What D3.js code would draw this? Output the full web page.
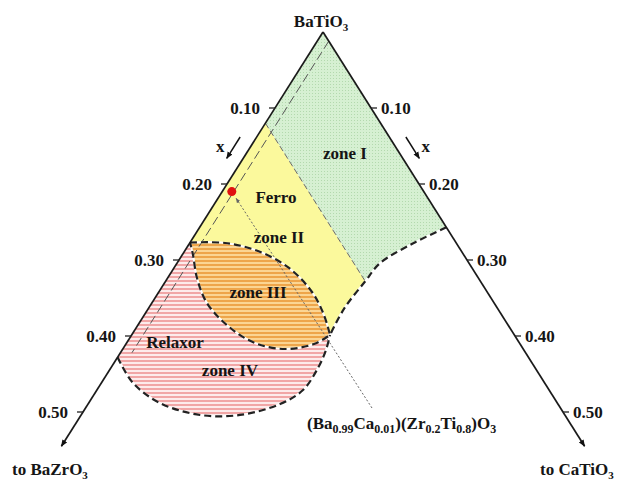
<!DOCTYPE html>
<html>
<head>
<meta charset="utf-8">
<script src="https://cdn.jsdelivr.net/npm/d3@7/dist/d3.min.js"></script>
<style>
  body { margin: 0; background: #fff; }
  svg { display: block; }
  text { font-family: "Liberation Serif", "Times New Roman", serif; font-weight: bold; fill: #151515; }
</style>
</head>
<body>
<svg id="chart" width="620" height="481"></svg>
<script>
// Compositions are [xZr, xCa]: fraction toward BaZrO3 (left axis) and toward CaTiO3 (right axis).
const tickValues = [0.10, 0.20, 0.30, 0.40, 0.50];
const tickLabels = ["0.10", "0.20", "0.30", "0.40", "0.50"];
const axisLength = 0.545;
// Span of the small "x" direction arrows along each axis
const xArrowSpan = [0.148, 0.176];

// Dashed phase boundary from the CaTiO3 side down to the zone III / zone IV junction
const phaseBoundary = [[0, 0.257], [0.045, 0.233], [0.0925, 0.2115], [0.12, 0.208], [0.16, 0.204], [0.192, 0.2066]];
// Zone I / zone II border (constant xZr)
const ferroBorder = [[0.12, 0], [0.12, 0.208]];
// Zone III lens: upper edge and lower edge
const zoneIIITop = [[0.277, 0], [0.2409, 0.0367], [0.2118, 0.0764], [0.1907, 0.1198], [0.1825, 0.1596], [0.1852, 0.1872], [0.192, 0.2066]];
const zoneIIIBottom = [[0.192, 0.2066], [0.2147, 0.1959], [0.2481, 0.169], [0.2755, 0.1338], [0.2924, 0.0945], [0.2992, 0.0575], [0.2931, 0.0306], [0.2821, 0.0113], [0.277, 0]];
// Zone IV outer arc, leaving the BaZrO3 axis
const zoneIVArc = [[0.428, 0], [0.4288, 0.033], [0.4139, 0.0743], [0.3801, 0.1238], [0.3384, 0.1655], [0.2895, 0.2], [0.2564, 0.2147], [0.2262, 0.2158], [0.2061, 0.2123], [0.192, 0.2066]];
// Ca = 0.01 composition line
const caLine = [[0, 0.012], [0.41, 0.012]];
// Marked composition (Ba0.99Ca0.01)(Zr0.2Ti0.8)O3
const sample = [0.2, 0.01];

const zoneLabels = [
  { text: "zone I", at: [0.0567, 0.1025] },
  { text: "Ferro", at: [0.1575, 0.0596] },
  { text: "zone II", at: [0.1807, 0.089] },
  { text: "zone III", at: [0.2388, 0.1034] },
  { text: "Relaxor", at: [0.3581, 0.0498] },
  { text: "zone IV", at: [0.3193, 0.1255] }
];

const svg = d3.select("#chart");

// Oblique composition scales: horizontal from (xCa - xZr), vertical from (xZr + xCa)
const apex = { x: 323, y: 32 };
const sx = d3.scaleLinear().domain([-1, 1]).range([apex.x - 480, apex.x + 480]);
const sy = d3.scaleLinear().domain([0, 1]).range([apex.y, apex.y + 760]);
const proj = ([a, b]) => [sx(b - a), sy(a + b)];

const smooth = d3.line().curve(d3.curveCatmullRom.alpha(0.5));
const straight = d3.line();
const curveSeg = pts => smooth(pts.map(proj)).replace(/^M/, "L");
const lineSeg = pts => straight(pts.map(proj)).replace(/^M/, "L");

// Patterns
const defs = svg.append("defs");
const dots = defs.append("pattern").attr("id", "greenDots")
  .attr("width", 3).attr("height", 3).attr("patternUnits", "userSpaceOnUse");
dots.append("rect").attr("width", 3).attr("height", 3).attr("fill", "#d6f0d2");
dots.append("rect").attr("width", 1).attr("height", 1).attr("fill", "#b3d9ae");

const orange = defs.append("pattern").attr("id", "orangeStripes")
  .attr("width", 8).attr("height", 4).attr("patternUnits", "userSpaceOnUse");
orange.append("rect").attr("width", 8).attr("height", 4).attr("fill", "#fbd593");
orange.append("rect").attr("width", 8).attr("height", 2).attr("fill", "#eea54a");

const pink = defs.append("pattern").attr("id", "pinkStripes")
  .attr("width", 8).attr("height", 4).attr("patternUnits", "userSpaceOnUse");
pink.append("rect").attr("width", 8).attr("height", 4).attr("fill", "#fdebeb");
pink.append("rect").attr("width", 8).attr("height", 2).attr("fill", "#f1a6a6");

const arrow = defs.append("marker").attr("id", "arrowHead")
  .attr("viewBox", "0 0 10 10").attr("refX", 9).attr("refY", 5)
  .attr("markerWidth", 7).attr("markerHeight", 7).attr("markerUnits", "userSpaceOnUse")
  .attr("orient", "auto");
arrow.append("path").attr("d", "M0,1 L10,5 L0,9 Z").attr("fill", "#111");

const smallArrow = defs.append("marker").attr("id", "smallHead")
  .attr("viewBox", "0 0 10 10").attr("refX", 9).attr("refY", 5)
  .attr("markerWidth", 5).attr("markerHeight", 5).attr("markerUnits", "userSpaceOnUse")
  .attr("orient", "auto");
smallArrow.append("path").attr("d", "M0,1 L10,5 L0,9 Z").attr("fill", "#666");

// Zone fills
const ferroIdx = phaseBoundary.findIndex(p => p[0] === ferroBorder[1][0] && p[1] === ferroBorder[1][1]);

const zoneIPath = "M" + proj([0, 0]) + lineSeg([[0, phaseBoundary[0][1]]]) +
  curveSeg(phaseBoundary.slice(0, ferroIdx + 1)) + lineSeg([ferroBorder[0]]) + "Z";
svg.append("path").attr("d", zoneIPath).attr("fill", "url(#greenDots)");

const zoneIIPath = "M" + proj(ferroBorder[0]) + lineSeg([zoneIIITop[0]]) +
  curveSeg(zoneIIITop) + curveSeg(phaseBoundary.slice(ferroIdx).reverse()) + "Z";
svg.append("path").attr("d", zoneIIPath).attr("fill", "#fbf99c");

const zoneIVPath = "M" + proj(zoneIIITop[0]) + lineSeg([zoneIVArc[0]]) +
  curveSeg(zoneIVArc) + curveSeg(zoneIIITop.slice().reverse()) + "Z";
svg.append("path").attr("d", zoneIVPath).attr("fill", "url(#pinkStripes)");

const zoneIIIPath = "M" + proj(zoneIIITop[0]) + curveSeg(zoneIIITop) + curveSeg(zoneIIIBottom) + "Z";
svg.append("path").attr("d", zoneIIIPath).attr("fill", "url(#orangeStripes)");

// Thin guide lines
svg.append("path").attr("d", straight(ferroBorder.map(proj)))
  .attr("fill", "none").attr("stroke", "#6a6a6a").attr("stroke-width", 1).attr("stroke-dasharray", "6,3");
svg.append("path").attr("d", straight(caLine.map(proj)))
  .attr("fill", "none").attr("stroke", "#555").attr("stroke-width", 1).attr("stroke-dasharray", "9,4");

// Leader from the marked composition to its formula
const dotPos = proj(sample);
const labelAnchor = [372, 408];
const ang = Math.atan2(labelAnchor[1] - dotPos[1], labelAnchor[0] - dotPos[0]);
svg.append("line")
  .attr("x1", labelAnchor[0]).attr("y1", labelAnchor[1])
  .attr("x2", dotPos[0] + 8 * Math.cos(ang)).attr("y2", dotPos[1] + 8 * Math.sin(ang))
  .attr("stroke", "#666").attr("stroke-width", 1).attr("stroke-dasharray", "2,2")
  .attr("marker-end", "url(#smallHead)");

// Black dashed boundaries (white under-stroke shows in the gaps)
const boundaries = [
  "M" + proj(phaseBoundary[0]) + curveSeg(phaseBoundary),
  "M" + proj(zoneIIITop[0]) + curveSeg(zoneIIITop) + curveSeg(zoneIIIBottom),
  "M" + proj(zoneIVArc[0]) + curveSeg(zoneIVArc)
];
svg.selectAll("path.under").data(boundaries).join("path").attr("class", "under")
  .attr("d", d => d).attr("fill", "none").attr("stroke", "#fff").attr("stroke-width", 2);
svg.selectAll("path.bound").data(boundaries).join("path").attr("class", "bound")
  .attr("d", d => d).attr("fill", "none").attr("stroke", "#222")
  .attr("stroke-width", 2.2).attr("stroke-dasharray", "7,4");

// Axes
const leftEnd = proj([axisLength, 0]);
const rightEnd = proj([0, axisLength]);
svg.append("line").attr("x1", apex.x).attr("y1", apex.y).attr("x2", leftEnd[0]).attr("y2", leftEnd[1])
  .attr("stroke", "#1a1a1a").attr("stroke-width", 1.7).attr("marker-end", "url(#arrowHead)");
svg.append("line").attr("x1", apex.x).attr("y1", apex.y).attr("x2", rightEnd[0]).attr("y2", rightEnd[1])
  .attr("stroke", "#1a1a1a").attr("stroke-width", 1.7).attr("marker-end", "url(#arrowHead)");

// Ticks and tick labels on both axes
tickValues.forEach((v, i) => {
  const L = proj([v, 0]);
  const R = proj([0, v]);
  svg.append("line").attr("x1", L[0] - 6).attr("x2", L[0]).attr("y1", L[1]).attr("y2", L[1])
    .attr("stroke", "#222").attr("stroke-width", 1.3);
  svg.append("line").attr("x1", R[0]).attr("x2", R[0] + 6).attr("y1", R[1]).attr("y2", R[1])
    .attr("stroke", "#222").attr("stroke-width", 1.3);
  svg.append("text").attr("x", L[0] - 15).attr("y", L[1]).attr("dy", "0.35em")
    .attr("text-anchor", "end").attr("font-size", 17).text(tickLabels[i]);
  svg.append("text").attr("x", R[0] + 10).attr("y", R[1]).attr("dy", "0.35em")
    .attr("text-anchor", "start").attr("font-size", 17).text(tickLabels[i]);
});

// "x" direction arrows beside each axis, offset outward along the axis normal
function axisArrow(side) {
  const at = v => side < 0 ? proj([v, 0]) : proj([0, v]);
  const p0 = at(xArrowSpan[0]);
  const p1 = at(xArrowSpan[1]);
  const dx = p1[0] - p0[0], dy = p1[1] - p0[1], len = Math.hypot(dx, dy);
  const ux = dx / len, uy = dy / len;
  // outward normal: left axis -> up-left, right axis -> up-right
  const nx = side < 0 ? -uy : uy, ny = side < 0 ? ux : -ux;
  const off = 14;
  const a0 = [p0[0] + nx * off, p0[1] + ny * off];
  const a1 = [p1[0] + nx * off, p1[1] + ny * off];
  svg.append("line").attr("x1", a0[0]).attr("y1", a0[1]).attr("x2", a1[0]).attr("y2", a1[1])
    .attr("stroke", "#111").attr("stroke-width", 1.5).attr("marker-end", "url(#arrowHead)");
  const mx = (a0[0] + a1[0]) / 2, my = (a0[1] + a1[1]) / 2;
  svg.append("text").attr("x", mx + side * 9).attr("y", my + 4)
    .attr("text-anchor", side < 0 ? "end" : "start").attr("font-size", 17).text("x");
}
axisArrow(-1);
axisArrow(1);

// Chemical formula helper with subscripts
function chem(x, y, parts, anchor, size, subSize) {
  const t = svg.append("text").attr("x", x).attr("y", y).attr("text-anchor", anchor).attr("font-size", size);
  let down = false;
  parts.forEach(([s, sub]) => {
    const span = t.append("tspan").text(s);
    if (sub && !down) { span.attr("dy", 4).attr("font-size", subSize); down = true; }
    else if (sub) { span.attr("font-size", subSize); }
    else if (down) { span.attr("dy", -4); down = false; }
  });
  return t;
}

chem(apex.x - 2, 27, [["BaTiO", false], ["3", true]], "middle", 17, 11);
chem(12, 475, [["to BaZrO", false], ["3", true]], "start", 17, 11);
chem(540, 475, [["to CaTiO", false], ["3", true]], "start", 17, 11);
chem(307, 429, [["(Ba", false], ["0.99", true], ["Ca", false], ["0.01", true], [")(Zr", false],
  ["0.2", true], ["Ti", false], ["0.8", true], [")O", false], ["3", true]], "start", 17, 12);

// Zone labels
svg.selectAll("text.zone").data(zoneLabels).join("text").attr("class", "zone")
  .attr("x", d => proj(d.at)[0]).attr("y", d => proj(d.at)[1]).attr("dy", "0.35em")
  .attr("text-anchor", "middle").attr("font-size", 17).text(d => d.text);

// Marked composition
svg.append("circle").attr("cx", dotPos[0]).attr("cy", dotPos[1]).attr("r", 4.5).attr("fill", "#e01010");
</script>
</body>
</html>
